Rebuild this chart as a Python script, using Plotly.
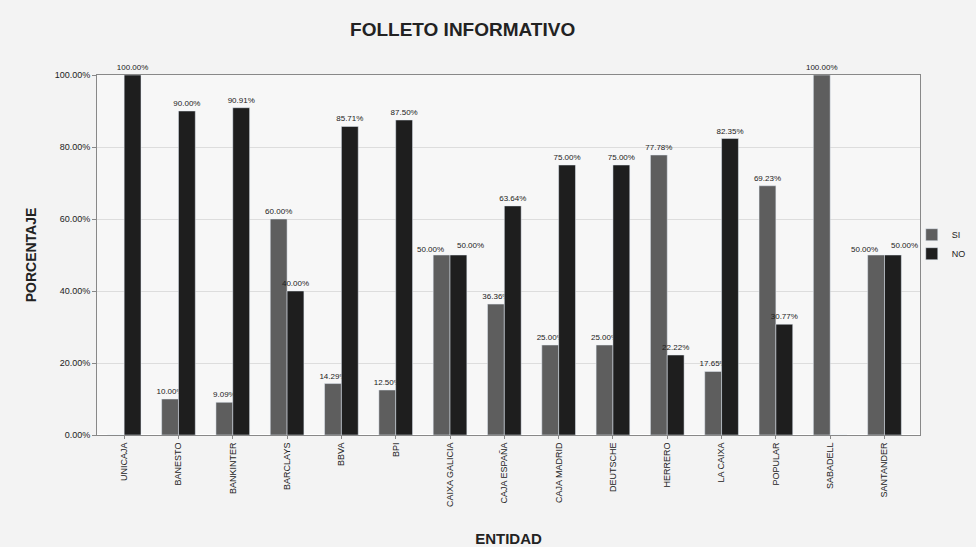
import plotly.graph_objects as go

categories = ["UNICAJA", "BANESTO", "BANKINTER", "BARCLAYS", "BBVA", "BPI",
              "CAIXA GALICIA", "CAJA ESPAÑA", "CAJA MADRID", "DEUTSCHE",
              "HERRERO", "LA CAIXA", "POPULAR", "SABADELL", "SANTANDER"]
si_values = [0, 10.00, 9.09, 60.00, 14.29, 12.50, 50.00, 36.36, 25.00, 25.00,
             77.78, 17.65, 69.23, 100.00, 50.00]
no_values = [100.00, 90.00, 90.91, 40.00, 85.71, 87.50, 50.00, 63.64, 75.00, 75.00,
             22.22, 82.35, 30.77, 0, 50.00]
y_ticks = [0, 20, 40, 60, 80, 100]


def is_tie(a, b):
    return abs(a - b) < 4


def labels(vals, other):
    return ["" if (v == 0 or is_tie(v, o)) else f"{v:.2f}%"
            for v, o in zip(vals, other)]


fig = go.Figure()
fig.add_trace(go.Bar(name="SI", x=categories, y=si_values,
                     text=labels(si_values, no_values),
                     textposition="outside", marker_color="#5e5e5e",
                     textfont=dict(size=8, color="#222"), cliponaxis=False))
fig.add_trace(go.Bar(name="NO", x=categories, y=no_values,
                     text=labels(no_values, si_values),
                     textposition="outside", marker_color="#1e1e1e",
                     textfont=dict(size=8, color="#222"), cliponaxis=False))

# labels of equal-height pairs, pushed apart so they stay readable
for c, s, n in zip(categories, si_values, no_values):
    if s and n and is_tie(s, n):
        fig.add_annotation(x=c, y=s, text=f"{s:.2f}%", showarrow=False,
                           xshift=-20, yshift=6, font=dict(size=8, color="#222"))
        fig.add_annotation(x=c, y=n, text=f"{n:.2f}%", showarrow=False,
                           xshift=20, yshift=10, font=dict(size=8, color="#222"))

fig.update_layout(
    width=976, height=547,
    barmode="group", bargap=0.38, bargroupgap=0,
    paper_bgcolor="#f3f3f3", plot_bgcolor="#f7f7f7",
    font=dict(family="Liberation Sans, Arial, sans-serif", color="#222"),
    margin=dict(l=97, r=56, t=75, b=112, autoexpand=False),
    title=dict(text="<b>FOLLETO INFORMATIVO</b>", x=0.474, xanchor="center",
               y=0.947, yanchor="middle", font=dict(size=19, color="#222")),
    legend=dict(x=0.99, y=0.53, xanchor="left", yanchor="middle",
                font=dict(size=9), bgcolor="rgba(0,0,0,0)",
                itemwidth=30, tracegroupgap=0),
    uniformtext=dict(minsize=7, mode="show"),
)
fig.update_yaxes(range=[0, 100], tickvals=y_ticks,
                 ticktext=[f"{v:.2f}%" for v in y_ticks],
                 tickfont=dict(size=9), gridcolor="#dddddd",
                 showline=True, linecolor="#888", linewidth=1, mirror=True,
                 ticks="outside", ticklen=4, tickcolor="#888",
                 title=dict(text="<b>PORCENTAJE</b>", font=dict(size=14), standoff=14))
fig.update_xaxes(tickangle=-90, tickfont=dict(size=9),
                 showline=True, linecolor="#888", linewidth=1, mirror=True,
                 ticks="outside", ticklen=3, tickcolor="#888",
                 title=dict(text="<b>ENTIDAD</b>", font=dict(size=15), standoff=28))

fig.write_html("out.html")
